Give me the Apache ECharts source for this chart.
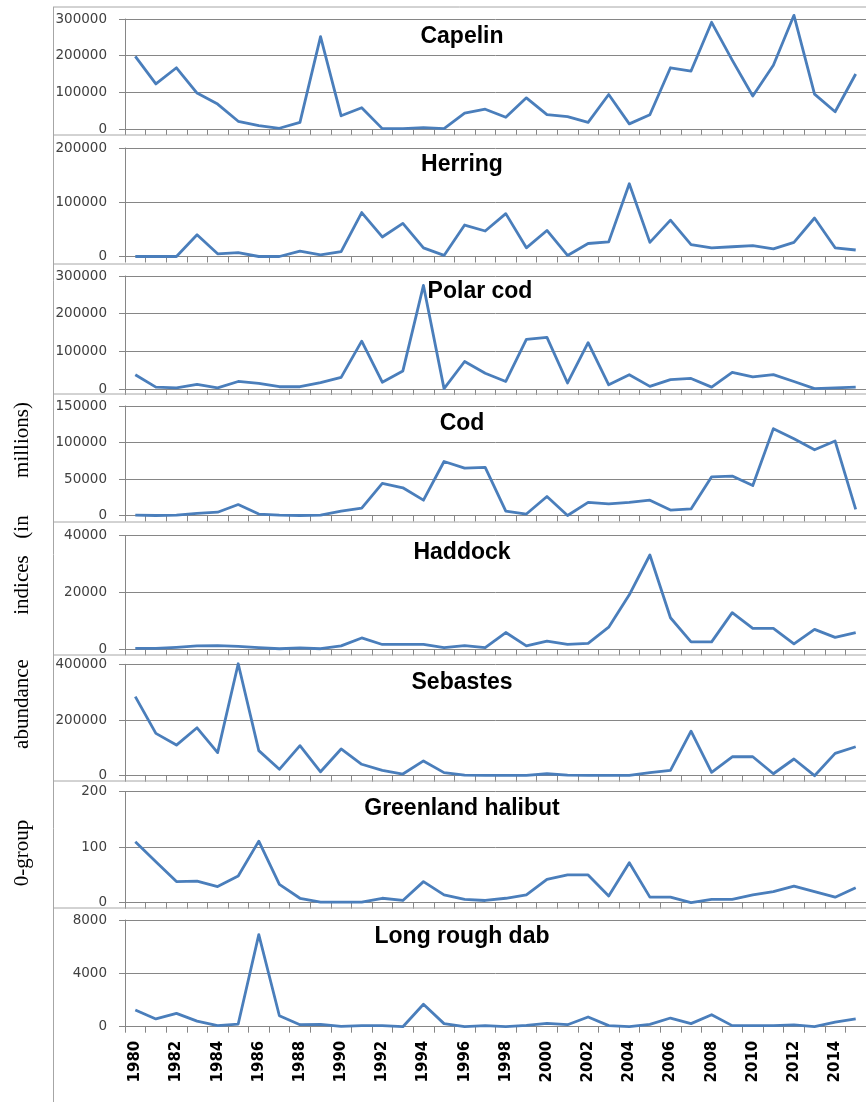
<!DOCTYPE html>
<html><head><meta charset="utf-8">
<script src="https://cdn.jsdelivr.net/npm/echarts@6/dist/echarts.min.js"></script>
<style>html,body{margin:0;padding:0;background:#fff}#c{width:866px;height:1102px}</style>
</head><body><div id="c"></div>
<script>
const years = ['1980','1981','1982','1983','1984','1985','1986','1987','1988','1989','1990','1991','1992','1993','1994','1995','1996','1997','1998','1999','2000','2001','2002','2003','2004','2005','2006','2007','2008','2009','2010','2011','2012','2013','2014','2015'];
const capelin = [198000,123000,167000,98000,68000,21000,9000,2000,18000,252000,36000,58000,1000,1000,4000,1000,43000,54000,32000,85000,39000,34000,18000,94000,14000,39000,167000,158000,291000,188000,90000,174000,310000,95000,47000,150000];
const herring = [0,0,0,40000,5000,7000,0,0,10000,3000,9000,81000,36000,61000,16000,2000,58000,47000,79000,16000,48000,2000,24000,27000,134000,26000,67000,22000,16000,18000,20000,14000,26000,71000,16000,12000];
const polarCod = [38000,5000,3000,12000,3000,20000,15000,6000,6000,17000,31000,127000,18000,48000,275000,1000,73000,42000,20000,132000,137000,16000,123000,11000,38000,7000,25000,28000,5000,44000,32000,38000,20000,1000,3000,5000];
const cod = [500,0,500,3000,4500,15000,2000,500,0,500,6000,10000,44000,38000,21000,74000,65000,66000,6000,2000,26000,0,18000,16000,18000,21000,7500,9000,53000,54000,41000,119000,105000,90000,102000,8500];
const haddock = [300,300,700,1200,1300,1000,600,200,500,200,1200,4000,1700,1700,1700,600,1300,600,5900,1200,2900,1700,2100,7800,19200,33200,11100,2600,2600,12900,7400,7400,1900,7000,4200,5900];
const sebastes = [284000,152000,110000,172000,83000,402000,90000,23000,108000,14000,96000,41000,19000,6000,53000,11000,2000,1000,1000,1000,7000,2000,1000,1000,1000,11000,19000,160000,12000,68000,68000,7000,60000,0,80000,104000];
const greenlandHalibut = [110,74,38,39,29,48,111,33,8,1,1,1,8,4,38,14,6,4,8,14,42,50,50,12,72,10,10,0,6,6,14,20,30,20,10,27];
const longRoughDab = [1250,580,1000,420,80,200,6900,820,150,170,20,80,80,0,1680,230,0,80,0,100,250,150,730,80,0,170,650,230,900,80,80,80,130,0,350,580];

const titles = ['Capelin','Herring','Polar cod','Cod','Haddock','Sebastes','Greenland halibut','Long rough dab'];
const yMax = [300000,200000,300000,150000,40000,400000,200,8000];
const yStep = [100000,100000,100000,50000,20000,200000,100,4000];
const yTitleWords = ['millions)','(in','indices','abundance','0-group'];

const seriesData = [capelin,herring,polarCod,cod,haddock,sebastes,greenlandHalibut,longRoughDab];

// layout
const gridTop = [19,148,276,406,535.7,664.3,791.7,920];
const gridH = [110,108.5,113,109.5,113.6,111.4,111,106.7];
const titleY = [37,165,292,424,553,683,809,937];
const titleX = [462,462,480,462,462,462,462,462];
const frameY = [7,135,264,394,522,655,781,908];
const wordY = [440,527,585,704,853];

const AX = '#868686';
const grids=[],xAxes=[],yAxes=[],series=[],graphic=[];
for (let i=0;i<8;i++){
  const last = i===7;
  grids.push({left:125,right:0,top:gridTop[i],height:gridH[i],containLabel:false});
  xAxes.push({type:'category',gridIndex:i,data:years,boundaryGap:true,
    axisLine:{show:true,lineStyle:{color:AX,width:1}},
    axisTick:{show:true,interval:0,length:6,lineStyle:{color:AX}},
    axisLabel:{show:last,interval:1,rotate:90,margin:14,fontFamily:'DejaVu Sans',fontWeight:'bold',fontSize:15,color:'#000'},
    splitLine:{show:false}});
  yAxes.push({type:'value',gridIndex:i,min:0,max:yMax[i],interval:yStep[i],
    axisLine:{show:true,lineStyle:{color:AX,width:1}},
    axisTick:{show:true,length:6,lineStyle:{color:AX}},
    axisLabel:{show:true,margin:18,fontFamily:'DejaVu Sans',fontSize:13.5,color:'#404040',formatter:function(v){return String(v);}},
    splitLine:{show:true,lineStyle:{color:AX,width:1}}});
  series.push({type:'line',xAxisIndex:i,yAxisIndex:i,data:seriesData[i],showSymbol:false,symbol:'none',clip:false,
    lineStyle:{color:'#4a7ebb',width:2.8,join:'round'},itemStyle:{color:'#4a7ebb'},z:5});
  graphic.push({type:'text',z:10,
    style:{text:titles[i],x:titleX[i],y:titleY[i],align:'center',verticalAlign:'middle',font:'bold 23px "Liberation Sans", Arial, sans-serif',fill:'#000'}});
  graphic.push({type:'line',z:1,shape:{x1:53,y1:frameY[i],x2:866,y2:frameY[i]},style:{stroke:'#a6a6a6',lineWidth:1}});
}
graphic.push({type:'line',z:1,shape:{x1:53.5,y1:7,x2:53.5,y2:1102},style:{stroke:'#a6a6a6',lineWidth:1}});
for (let k=0;k<yTitleWords.length;k++){
  graphic.push({type:'text',x:22,y:wordY[k],rotation:Math.PI/2,z:10,
    style:{text:yTitleWords[k],x:0,y:0,align:'center',verticalAlign:'middle',font:'21px "Liberation Serif", "Times New Roman", serif',fill:'#000'}});
}

const chart = echarts.init(document.getElementById('c'),null,{renderer:'canvas'});
chart.setOption({animation:false,backgroundColor:'#fff',grid:grids,xAxis:xAxes,yAxis:yAxes,series:series,graphic:graphic});
</script></body></html>
